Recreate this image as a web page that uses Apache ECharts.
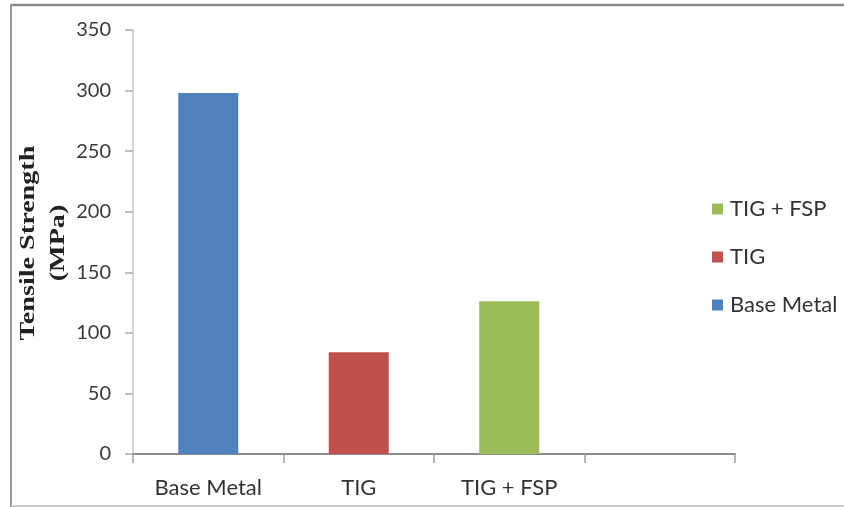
<!DOCTYPE html>
<html>
<head>
<meta charset="utf-8">
<script src="https://cdn.jsdelivr.net/npm/echarts@6/dist/echarts.min.js"></script>
<style>
  html, body { margin: 0; padding: 0; background: #fff; }
  #chart { width: 844px; height: 507px; }
</style>
</head>
<body>
<div id="chart"></div>
<script>
// Tensile strength of the base metal and the two welded conditions
const categories = ['Base Metal', 'TIG', 'TIG + FSP', ''];
const seriesNames = ['Base Metal', 'TIG', 'TIG + FSP'];
const strengthValues = [298, 84, 126]; // MPa
const seriesColors = ['#4f81bd', '#c0504d', '#9bbb59'];
const yTicks = { min: 0, max: 350, interval: 50 };
const legendOrder = ['TIG + FSP', 'TIG', 'Base Metal'];

const labelFont = 'Lato, "Liberation Sans", sans-serif';

// one series per condition, each placed on its own category slot
const series = seriesNames.map((name, i) => ({
  name: name,
  type: 'bar',
  stack: 'strength',
  barWidth: 60,
  itemStyle: { color: seriesColors[i] },
  data: categories.map((c, j) => (j === i ? strengthValues[i] : '-'))
}));

const chart = echarts.init(document.getElementById('chart'), null, { renderer: 'canvas' });
chart.setOption({
  animation: false,
  backgroundColor: '#fff',
  grid: { left: 133, right: 109, top: 30, bottom: 53, containLabel: false },
  legend: {
    orient: 'vertical',
    left: 712,
    top: 198,
    padding: 0,
    itemWidth: 11,
    itemHeight: 11,
    itemGap: 26,
    icon: 'rect',
    data: legendOrder,
    textStyle: { fontFamily: labelFont, fontSize: 22, color: '#333', padding: [0, 0, 0, 2] }
  },
  xAxis: {
    type: 'category',
    data: categories,
    boundaryGap: true,
    axisLine: { lineStyle: { color: '#8c8c8c', width: 2 } },
    axisTick: { show: true, inside: false, length: 9, interval: 0, lineStyle: { color: '#a0a0a0', width: 1.5 } },
    axisLabel: { fontFamily: labelFont, fontSize: 22, color: '#333', margin: 23, interval: 0 }
  },
  yAxis: {
    type: 'value',
    min: yTicks.min,
    max: yTicks.max,
    interval: yTicks.interval,
    axisLine: { show: true, lineStyle: { color: '#c8c8c8', width: 1.5 } },
    axisTick: { show: true, inside: false, length: 8, lineStyle: { color: '#a8a8a8', width: 1.5 } },
    splitLine: { show: false },
    axisLabel: { fontFamily: labelFont, fontSize: 20, color: '#3a3a3a', margin: 22 }
  },
  series: series,
  graphic: [
    {
      type: 'text',
      x: 43,
      y: 243,
      rotation: Math.PI / 2,
      scaleX: 1.28,
      style: {
        text: 'Tensile Strength\n(MPa)',
        font: 'bold 22px "Liberation Serif", "Times New Roman", serif',
        fill: '#222',
        textAlign: 'center',
        textVerticalAlign: 'middle',
        lineHeight: 30
      }
    },
    // chart frame
    { type: 'line', shape: { x1: 11, y1: 5, x2: 844, y2: 5 }, style: { stroke: '#8a8a8a', lineWidth: 2.5 } },
    { type: 'line', shape: { x1: 11, y1: 4, x2: 11, y2: 507 }, style: { stroke: '#9a9a9a', lineWidth: 2 } },
    { type: 'line', shape: { x1: 11, y1: 506, x2: 844, y2: 506 }, style: { stroke: '#bdbdbd', lineWidth: 1.5 } }
  ]
});
</script>
</body>
</html>
